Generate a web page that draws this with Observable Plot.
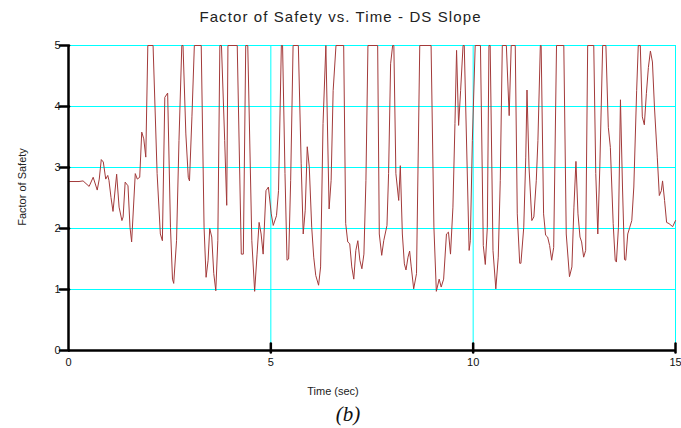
<!DOCTYPE html>
<html>
<head>
<meta charset="utf-8">
<script src="https://cdn.jsdelivr.net/npm/d3@7"></script>
<script src="https://cdn.jsdelivr.net/npm/@observablehq/plot@0.6"></script>
<style>
  html, body { margin: 0; padding: 0; background: #fff; }
  #wrap { position: relative; width: 681px; height: 428px; font-family: "Liberation Sans", Arial, sans-serif; }
  #title { position: absolute; left: 0; width: 681px; top: 8px; text-align: center; font-size: 15px; color: #222; letter-spacing: 1.1px; }
  #ylab { position: absolute; left: 22px; top: 187px; transform: translate(-50%, -50%) rotate(-90deg); font-size: 11px; color: #222; white-space: nowrap; }
  #xlab { position: absolute; left: 333px; top: 385px; transform: translateX(-50%); font-size: 11px; color: #222; white-space: nowrap; }
  #cap { position: absolute; left: 348px; top: 402px; transform: translateX(-50%); font-family: "Liberation Serif", "Times New Roman", serif; font-style: italic; font-size: 21px; color: #111; }
  #chart { position: absolute; left: 0; top: 0; }
</style>
</head>
<body>
<div id="wrap">
  <div id="chart"></div>
  <div id="title">Factor of Safety vs. Time - DS Slope</div>
  <div id="ylab">Factor of Safety</div>
  <div id="xlab">Time (sec)</div>
  <div id="cap">(b)</div>
</div>
<script>
const time = [0,0.26,0.36,0.51,0.61,0.71,0.76,0.81,0.86,0.92,0.97,1.00,1.05,1.10,1.19,1.25,1.32,1.35,1.40,1.47,1.52,1.56,1.65,1.70,1.76,1.81,1.86,1.91,1.96,2.09,2.19,2.27,2.32,2.38,2.45,2.52,2.57,2.60,2.67,2.73,2.80,2.83,2.90,2.96,2.99,3.05,3.11,3.28,3.35,3.40,3.45,3.49,3.54,3.59,3.64,3.69,3.74,3.78,3.86,3.91,3.94,4.17,4.27,4.32,4.38,4.43,4.53,4.60,4.66,4.71,4.76,4.81,4.88,4.94,5.01,5.06,5.14,5.19,5.26,5.29,5.35,5.40,5.44,5.49,5.55,5.68,5.75,5.80,5.85,5.90,5.95,6.01,6.06,6.11,6.18,6.23,6.29,6.36,6.44,6.49,6.54,6.61,6.80,6.85,6.90,6.95,7.00,7.05,7.10,7.15,7.20,7.25,7.30,7.35,7.40,7.64,7.68,7.74,7.79,7.87,7.91,7.96,8.01,8.04,8.09,8.16,8.20,8.25,8.30,8.34,8.39,8.43,8.47,8.53,8.60,8.68,8.96,9.03,9.09,9.16,9.21,9.27,9.34,9.39,9.44,9.50,9.55,9.59,9.64,9.69,9.75,9.78,9.90,9.93,9.98,10.05,10.18,10.25,10.30,10.35,10.39,10.42,10.49,10.56,10.62,10.67,10.72,10.82,10.89,10.94,11.04,11.09,11.15,11.18,11.25,11.30,11.33,11.38,11.45,11.50,11.56,11.60,11.66,11.68,11.74,11.79,11.84,11.89,11.94,11.99,12.06,12.24,12.30,12.38,12.44,12.49,12.54,12.59,12.64,12.68,12.73,12.78,12.83,12.98,13.03,13.08,13.13,13.20,13.28,13.34,13.39,13.46,13.51,13.54,13.59,13.64,13.69,13.74,13.77,13.82,13.87,13.92,13.97,14.04,14.08,14.13,14.18,14.23,14.28,14.33,14.38,14.43,14.48,14.55,14.60,14.65,14.68,14.73,14.78,14.84,14.93,15.00];
const factorOfSafety = [2.77,2.77,2.78,2.69,2.84,2.63,2.81,3.13,3.09,2.81,2.87,2.79,2.51,2.28,2.89,2.35,2.13,2.19,2.76,2.70,2.02,1.78,2.90,2.81,2.84,3.58,3.47,3.17,5,5,2.90,1.91,1.80,4.15,4.22,2.02,1.17,1.10,1.80,3.44,5,5,3.55,2.84,2.78,3.83,5,5,2.02,1.20,1.48,2.00,1.86,1.26,0.98,1.80,5,5,3.44,2.38,5,5,1.58,1.58,5,5,1.80,0.97,1.58,2.10,1.91,1.58,2.62,2.68,2.24,2.05,2.21,2.62,5,5,2.90,1.48,1.50,2.79,5,5,3.06,1.91,2.30,3.34,3.01,2.02,1.53,1.23,1.07,1.37,3.72,5,2.32,2.79,4.26,5,5,2.08,1.78,1.75,1.37,1.17,1.64,1.80,1.48,1.34,1.58,2.79,5,5,1.91,1.56,1.80,2.05,2.90,4.70,5,5,2.90,2.46,3.03,1.91,1.42,1.32,1.53,1.63,1.37,1.01,1.26,5,5,2.02,0.97,1.17,1.04,1.17,1.91,1.94,1.58,2.35,3.72,4.92,3.69,4.26,5,5,1.64,1.80,3.44,5,5,1.72,1.41,2.02,5,5,1.64,1.01,1.53,2.79,5,5,3.85,5,5,2.24,1.43,1.43,2.02,3.17,4.27,3.01,2.13,2.19,2.79,3.44,5,5,2.24,1.89,1.86,1.72,1.48,1.69,5,5,1.91,1.21,1.37,2.35,3.10,2.24,1.86,1.78,1.53,1.64,5,5,2.90,1.91,3.01,5,5,3.66,3.33,2.08,1.48,1.45,2.02,4.11,2.68,1.49,1.48,1.91,2.02,2.13,2.68,4.26,5,5,3.83,3.70,4.21,4.64,4.91,4.73,3.99,3.17,2.54,2.62,2.78,2.46,2.10,2.08,2.03,2.13];
const xTicks = [0, 5, 10, 15];
const yTicks = [0, 1, 2, 3, 4, 5];
const xGrid = [5, 10, 15];
const yGrid = [1, 2, 3, 4, 5];

const data = time.map((t, i) => ({t, v: factorOfSafety[i]}));

const chart = Plot.plot({
  width: 681,
  height: 400,
  marginLeft: 68,
  marginRight: 6,
  marginTop: 45,
  marginBottom: 50,
  style: {fontFamily: "'Liberation Sans', Arial, sans-serif", fontSize: "11px", color: "#111", background: "transparent", overflow: "visible"},
  x: {domain: [0, 15]},
  y: {domain: [0, 5]},
  marks: [
    Plot.ruleY(yGrid, {stroke: "#00ffff", strokeWidth: 1}),
    Plot.ruleX(xGrid, {stroke: "#00ffff", strokeWidth: 1}),
    Plot.line(data, {x: "t", y: "v", stroke: "#a33a3a", strokeWidth: 1}),
    Plot.ruleX([0], {stroke: "#000", strokeWidth: 2.5}),
    Plot.ruleY([0], {stroke: "#000", strokeWidth: 2.5}),
    // tick marks crossing the axes, as short vectors positioned by the scales
    Plot.vector(yTicks, {x: 0, y: d => d, length: 9, rotate: 90, anchor: "middle", dx: 0.5, shape: {draw(ctx, l) { ctx.moveTo(0, -l / 2); ctx.lineTo(0, l / 2); }}, stroke: "#000", strokeWidth: 2.5}),
    Plot.vector(xGrid, {x: d => d, y: 0, length: 9, rotate: 0, anchor: "start", dy: 2, shape: {draw(ctx, l) { ctx.moveTo(0, 0); ctx.lineTo(0, -l); }}, stroke: "#000", strokeWidth: 2.5}),
    Plot.axisY({ticks: yTicks, tickSize: 0, tickPadding: 8, tickFormat: "d", label: null, fill: "#111"}),
    Plot.axisX({ticks: xTicks, tickSize: 0, tickPadding: 8, tickFormat: "d", label: null, fill: "#111"})
  ]
});
document.getElementById("chart").appendChild(chart);
</script>
</body>
</html>
